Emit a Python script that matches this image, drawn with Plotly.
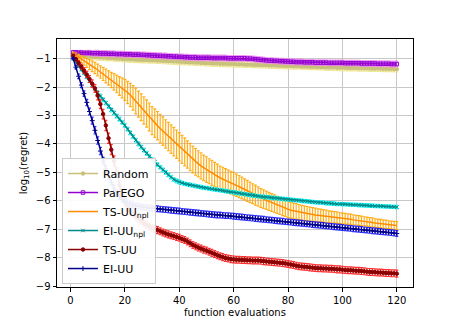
import plotly.graph_objects as go

evals = list(range(1, 121))

random_mean = [
    -0.84, -0.86, -0.88, -0.89, -0.90, -0.91, -0.92, -0.93, -0.94, -0.95,
    -0.96, -0.96, -0.97, -0.98, -0.98, -0.99, -1.00, -1.00, -1.01, -1.02,
    -1.02, -1.03, -1.03, -1.04, -1.04, -1.05, -1.05, -1.05, -1.06, -1.06,
    -1.06, -1.07, -1.07, -1.08, -1.08, -1.09, -1.09, -1.10, -1.10, -1.11,
    -1.11, -1.12, -1.12, -1.13, -1.13, -1.14, -1.14, -1.15, -1.15, -1.16,
    -1.16, -1.17, -1.17, -1.17, -1.18, -1.18, -1.18, -1.19, -1.19, -1.19,
    -1.20, -1.20, -1.20, -1.21, -1.21, -1.21, -1.22, -1.22, -1.22, -1.23,
    -1.23, -1.23, -1.24, -1.24, -1.24, -1.25, -1.25, -1.25, -1.26, -1.26,
    -1.26, -1.27, -1.27, -1.27, -1.28, -1.28, -1.28, -1.29, -1.29, -1.29,
    -1.30, -1.30, -1.30, -1.31, -1.31, -1.31, -1.31, -1.32, -1.32, -1.32,
    -1.32, -1.33, -1.33, -1.33, -1.33, -1.34, -1.34, -1.34, -1.34, -1.35,
    -1.35, -1.35, -1.35, -1.35, -1.36, -1.36, -1.36, -1.36, -1.37, -1.37,
]
random_err = [
    0.06, 0.07, 0.08, 0.08, 0.09, 0.09, 0.09, 0.10, 0.10, 0.10,
    0.10, 0.10, 0.10, 0.10, 0.10, 0.10, 0.10, 0.10, 0.10, 0.10,
    0.10, 0.10, 0.10, 0.10, 0.10, 0.10, 0.10, 0.10, 0.10, 0.10,
    0.10, 0.10, 0.10, 0.10, 0.10, 0.10, 0.10, 0.10, 0.10, 0.10,
    0.10, 0.10, 0.10, 0.10, 0.10, 0.10, 0.10, 0.10, 0.10, 0.10,
    0.10, 0.10, 0.10, 0.10, 0.10, 0.10, 0.10, 0.10, 0.10, 0.10,
    0.10, 0.10, 0.10, 0.10, 0.10, 0.10, 0.10, 0.10, 0.10, 0.10,
    0.10, 0.10, 0.10, 0.10, 0.10, 0.10, 0.10, 0.10, 0.10, 0.10,
    0.10, 0.10, 0.10, 0.10, 0.10, 0.10, 0.10, 0.10, 0.10, 0.10,
    0.10, 0.10, 0.10, 0.10, 0.10, 0.10, 0.10, 0.10, 0.10, 0.10,
    0.10, 0.10, 0.10, 0.10, 0.10, 0.10, 0.10, 0.10, 0.10, 0.10,
    0.10, 0.10, 0.10, 0.10, 0.10, 0.10, 0.10, 0.10, 0.10, 0.10,
]

parego_mean = [
    -0.78, -0.78, -0.79, -0.79, -0.80, -0.80, -0.80, -0.81, -0.81, -0.81,
    -0.82, -0.82, -0.82, -0.83, -0.83, -0.83, -0.84, -0.84, -0.84, -0.85,
    -0.85, -0.85, -0.86, -0.86, -0.86, -0.87, -0.87, -0.88, -0.88, -0.89,
    -0.89, -0.90, -0.90, -0.91, -0.91, -0.92, -0.92, -0.93, -0.93, -0.94,
    -0.94, -0.95, -0.95, -0.96, -0.96, -0.96, -0.97, -0.97, -0.97, -0.97,
    -0.97, -0.98, -0.98, -0.98, -0.98, -0.98, -0.98, -0.99, -0.99, -0.99,
    -0.99, -0.99, -0.99, -0.99, -1.00, -1.00, -1.01, -1.02, -1.03, -1.04,
    -1.05, -1.06, -1.07, -1.07, -1.08, -1.08, -1.09, -1.09, -1.10, -1.10,
    -1.11, -1.11, -1.12, -1.12, -1.12, -1.13, -1.13, -1.13, -1.13, -1.14,
    -1.14, -1.14, -1.14, -1.14, -1.15, -1.15, -1.15, -1.15, -1.15, -1.15,
    -1.16, -1.16, -1.16, -1.16, -1.16, -1.16, -1.17, -1.17, -1.17, -1.17,
    -1.17, -1.17, -1.18, -1.18, -1.18, -1.18, -1.18, -1.19, -1.19, -1.19,
]
parego_err = [
    0.05, 0.06, 0.07, 0.08, 0.08, 0.09, 0.09, 0.09, 0.10, 0.10,
    0.10, 0.10, 0.10, 0.10, 0.10, 0.10, 0.10, 0.10, 0.10, 0.10,
    0.10, 0.10, 0.10, 0.10, 0.10, 0.10, 0.10, 0.10, 0.10, 0.10,
    0.10, 0.10, 0.10, 0.10, 0.10, 0.10, 0.10, 0.10, 0.10, 0.10,
    0.10, 0.10, 0.10, 0.10, 0.10, 0.10, 0.10, 0.10, 0.10, 0.10,
    0.10, 0.10, 0.10, 0.10, 0.10, 0.10, 0.10, 0.10, 0.10, 0.10,
    0.10, 0.10, 0.10, 0.10, 0.10, 0.10, 0.10, 0.10, 0.10, 0.10,
    0.10, 0.10, 0.10, 0.10, 0.10, 0.10, 0.10, 0.10, 0.10, 0.10,
    0.10, 0.10, 0.10, 0.10, 0.10, 0.10, 0.10, 0.10, 0.10, 0.10,
    0.10, 0.10, 0.10, 0.10, 0.10, 0.10, 0.10, 0.10, 0.10, 0.10,
    0.10, 0.10, 0.10, 0.10, 0.10, 0.10, 0.10, 0.10, 0.10, 0.10,
    0.10, 0.10, 0.10, 0.10, 0.10, 0.10, 0.10, 0.10, 0.10, 0.10,
]

ts_npl_mean = [
    -0.82, -0.88, -0.95, -1.02, -1.09, -1.15, -1.21, -1.27, -1.33, -1.40,
    -1.47, -1.54, -1.61, -1.68, -1.75, -1.82, -1.89, -1.96, -2.03, -2.10,
    -2.19, -2.28, -2.38, -2.49, -2.60, -2.71, -2.82, -2.93, -3.05, -3.18,
    -3.27, -3.36, -3.46, -3.55, -3.65, -3.74, -3.83, -3.92, -4.01, -4.10,
    -4.19, -4.28, -4.37, -4.46, -4.55, -4.63, -4.70, -4.77, -4.84, -4.90,
    -4.96, -5.02, -5.08, -5.14, -5.20, -5.24, -5.28, -5.32, -5.36, -5.40,
    -5.45, -5.50, -5.55, -5.60, -5.65, -5.70, -5.75, -5.80, -5.85, -5.90,
    -5.94, -5.98, -6.02, -6.06, -6.10, -6.14, -6.18, -6.22, -6.26, -6.30,
    -6.33, -6.35, -6.37, -6.40, -6.42, -6.44, -6.45, -6.47, -6.48, -6.50,
    -6.51, -6.52, -6.53, -6.55, -6.56, -6.57, -6.58, -6.59, -6.61, -6.62,
    -6.63, -6.64, -6.65, -6.67, -6.68, -6.69, -6.71, -6.72, -6.73, -6.75,
    -6.76, -6.78, -6.79, -6.80, -6.82, -6.83, -6.84, -6.85, -6.86, -6.87,
]
ts_npl_err = [
    0.05, 0.08, 0.10, 0.12, 0.14, 0.16, 0.18, 0.19, 0.20, 0.21,
    0.22, 0.23, 0.24, 0.25, 0.27, 0.29, 0.31, 0.33, 0.35, 0.37,
    0.39, 0.41, 0.43, 0.45, 0.46, 0.47, 0.48, 0.48, 0.49, 0.49,
    0.50, 0.50, 0.50, 0.50, 0.50, 0.50, 0.50, 0.50, 0.50, 0.50,
    0.49, 0.49, 0.48, 0.48, 0.47, 0.47, 0.46, 0.46, 0.45, 0.45,
    0.44, 0.44, 0.43, 0.43, 0.42, 0.42, 0.41, 0.41, 0.40, 0.40,
    0.39, 0.39, 0.38, 0.37, 0.37, 0.36, 0.35, 0.35, 0.34, 0.33,
    0.33, 0.32, 0.32, 0.31, 0.31, 0.30, 0.30, 0.30, 0.29, 0.29,
    0.28, 0.28, 0.27, 0.27, 0.26, 0.26, 0.25, 0.25, 0.24, 0.24,
    0.23, 0.23, 0.22, 0.22, 0.21, 0.21, 0.20, 0.20, 0.19, 0.19,
    0.19, 0.18, 0.18, 0.18, 0.17, 0.17, 0.17, 0.16, 0.16, 0.16,
    0.16, 0.15, 0.15, 0.15, 0.15, 0.15, 0.14, 0.14, 0.14, 0.14,
]

ei_npl_mean = [
    -1.00, -1.13, -1.25, -1.38, -1.50, -1.64, -1.78, -1.92, -2.06, -2.20,
    -2.32, -2.44, -2.56, -2.68, -2.80, -2.91, -3.02, -3.13, -3.24, -3.35,
    -3.48, -3.61, -3.74, -3.87, -4.00, -4.11, -4.22, -4.33, -4.44, -4.55,
    -4.64, -4.73, -4.82, -4.91, -5.00, -5.09, -5.17, -5.25, -5.30, -5.34,
    -5.37, -5.40, -5.42, -5.44, -5.46, -5.48, -5.50, -5.52, -5.54, -5.55,
    -5.57, -5.58, -5.60, -5.61, -5.63, -5.64, -5.66, -5.67, -5.69, -5.70,
    -5.72, -5.73, -5.75, -5.76, -5.78, -5.79, -5.81, -5.82, -5.84, -5.85,
    -5.86, -5.87, -5.88, -5.89, -5.90, -5.91, -5.92, -5.93, -5.94, -5.95,
    -5.96, -5.97, -5.98, -5.99, -6.00, -6.01, -6.02, -6.03, -6.04, -6.05,
    -6.06, -6.06, -6.07, -6.08, -6.09, -6.09, -6.10, -6.11, -6.11, -6.12,
    -6.12, -6.13, -6.13, -6.14, -6.14, -6.15, -6.15, -6.16, -6.16, -6.17,
    -6.17, -6.18, -6.18, -6.19, -6.19, -6.20, -6.20, -6.21, -6.21, -6.22,
]
ei_npl_err = [
    0.03, 0.04, 0.05, 0.05, 0.06, 0.06, 0.06, 0.06, 0.07, 0.07,
    0.07, 0.07, 0.07, 0.07, 0.07, 0.07, 0.07, 0.07, 0.07, 0.07,
    0.07, 0.07, 0.07, 0.07, 0.07, 0.07, 0.07, 0.07, 0.07, 0.07,
    0.07, 0.07, 0.07, 0.07, 0.07, 0.07, 0.07, 0.07, 0.07, 0.07,
    0.06, 0.06, 0.06, 0.06, 0.06, 0.06, 0.06, 0.06, 0.06, 0.06,
    0.06, 0.06, 0.06, 0.06, 0.06, 0.06, 0.06, 0.06, 0.06, 0.06,
    0.06, 0.06, 0.06, 0.06, 0.06, 0.06, 0.06, 0.06, 0.06, 0.06,
    0.06, 0.06, 0.06, 0.06, 0.06, 0.06, 0.06, 0.06, 0.06, 0.06,
    0.06, 0.06, 0.06, 0.06, 0.06, 0.06, 0.06, 0.06, 0.06, 0.06,
    0.06, 0.06, 0.06, 0.06, 0.06, 0.06, 0.06, 0.06, 0.06, 0.06,
    0.06, 0.06, 0.06, 0.06, 0.06, 0.06, 0.06, 0.06, 0.06, 0.06,
    0.06, 0.06, 0.06, 0.06, 0.06, 0.06, 0.06, 0.06, 0.06, 0.06,
]

ts_mean = [
    -0.90, -1.02, -1.15, -1.28, -1.42, -1.56, -1.72, -1.88, -2.05, -2.30,
    -2.60, -2.95, -3.35, -3.80, -4.20, -4.60, -5.00, -5.45, -5.80, -6.05,
    -6.20, -6.35, -6.45, -6.55, -6.62, -6.70, -6.80, -6.85, -6.90, -6.95,
    -6.99, -7.03, -7.07, -7.11, -7.15, -7.18, -7.21, -7.24, -7.27, -7.30,
    -7.34, -7.38, -7.43, -7.49, -7.55, -7.60, -7.64, -7.68, -7.72, -7.75,
    -7.79, -7.83, -7.87, -7.91, -7.95, -7.98, -8.01, -8.03, -8.05, -8.06,
    -8.07, -8.07, -8.08, -8.08, -8.09, -8.09, -8.10, -8.10, -8.10, -8.11,
    -8.12, -8.13, -8.14, -8.15, -8.16, -8.17, -8.18, -8.19, -8.20, -8.22,
    -8.24, -8.26, -8.28, -8.30, -8.31, -8.32, -8.33, -8.34, -8.35, -8.36,
    -8.37, -8.37, -8.38, -8.38, -8.39, -8.39, -8.40, -8.41, -8.41, -8.42,
    -8.43, -8.44, -8.44, -8.45, -8.46, -8.46, -8.47, -8.48, -8.49, -8.50,
    -8.50, -8.51, -8.52, -8.52, -8.53, -8.54, -8.54, -8.55, -8.55, -8.56,
]
ts_err = [
    0.04, 0.06, 0.08, 0.09, 0.10, 0.11, 0.12, 0.13, 0.14, 0.15,
    0.16, 0.17, 0.18, 0.18, 0.18, 0.18, 0.17, 0.16, 0.15, 0.14,
    0.13, 0.13, 0.12, 0.12, 0.12, 0.12, 0.12, 0.12, 0.12, 0.12,
    0.12, 0.12, 0.12, 0.12, 0.12, 0.12, 0.12, 0.12, 0.12, 0.12,
    0.12, 0.12, 0.12, 0.12, 0.12, 0.12, 0.12, 0.12, 0.12, 0.12,
    0.12, 0.12, 0.12, 0.12, 0.12, 0.12, 0.12, 0.12, 0.12, 0.12,
    0.12, 0.12, 0.12, 0.12, 0.12, 0.12, 0.12, 0.12, 0.12, 0.12,
    0.12, 0.12, 0.12, 0.12, 0.12, 0.12, 0.12, 0.12, 0.12, 0.12,
    0.12, 0.12, 0.12, 0.12, 0.12, 0.12, 0.12, 0.12, 0.12, 0.12,
    0.12, 0.12, 0.12, 0.12, 0.12, 0.12, 0.12, 0.12, 0.12, 0.12,
    0.12, 0.12, 0.12, 0.12, 0.12, 0.12, 0.12, 0.12, 0.12, 0.12,
    0.12, 0.12, 0.12, 0.12, 0.12, 0.12, 0.12, 0.12, 0.12, 0.12,
]

ei_mean = [
    -1.00, -1.30, -1.62, -1.93, -2.23, -2.54, -2.86, -3.18, -3.52, -3.88,
    -4.25, -4.60, -4.88, -5.12, -5.35, -5.55, -5.72, -5.85, -5.95, -6.02,
    -6.07, -6.11, -6.14, -6.17, -6.19, -6.21, -6.23, -6.24, -6.25, -6.26,
    -6.27, -6.28, -6.29, -6.30, -6.31, -6.32, -6.33, -6.34, -6.35, -6.36,
    -6.37, -6.38, -6.39, -6.40, -6.41, -6.42, -6.43, -6.44, -6.45, -6.46,
    -6.47, -6.48, -6.49, -6.50, -6.50, -6.51, -6.52, -6.52, -6.53, -6.54,
    -6.55, -6.56, -6.57, -6.58, -6.59, -6.60, -6.61, -6.62, -6.63, -6.64,
    -6.65, -6.66, -6.67, -6.68, -6.69, -6.70, -6.71, -6.72, -6.73, -6.74,
    -6.75, -6.76, -6.77, -6.78, -6.79, -6.80, -6.81, -6.82, -6.83, -6.84,
    -6.85, -6.86, -6.87, -6.88, -6.89, -6.90, -6.91, -6.92, -6.93, -6.94,
    -6.95, -6.96, -6.97, -6.98, -6.99, -7.00, -7.01, -7.02, -7.03, -7.04,
    -7.05, -7.06, -7.07, -7.08, -7.09, -7.10, -7.11, -7.12, -7.13, -7.15,
]
ei_err = [
    0.04, 0.06, 0.08, 0.09, 0.10, 0.11, 0.12, 0.12, 0.13, 0.13,
    0.13, 0.13, 0.12, 0.12, 0.11, 0.11, 0.10, 0.10, 0.10, 0.10,
    0.10, 0.10, 0.10, 0.10, 0.10, 0.10, 0.10, 0.10, 0.10, 0.10,
    0.10, 0.10, 0.10, 0.10, 0.10, 0.10, 0.10, 0.10, 0.10, 0.10,
    0.10, 0.10, 0.10, 0.10, 0.10, 0.10, 0.10, 0.10, 0.10, 0.10,
    0.10, 0.10, 0.10, 0.10, 0.10, 0.10, 0.10, 0.10, 0.10, 0.10,
    0.10, 0.10, 0.10, 0.10, 0.10, 0.10, 0.10, 0.10, 0.10, 0.10,
    0.10, 0.10, 0.10, 0.10, 0.10, 0.10, 0.10, 0.10, 0.10, 0.10,
    0.10, 0.10, 0.10, 0.10, 0.10, 0.10, 0.10, 0.10, 0.10, 0.10,
    0.10, 0.10, 0.10, 0.10, 0.10, 0.10, 0.10, 0.10, 0.10, 0.10,
    0.10, 0.10, 0.10, 0.10, 0.10, 0.10, 0.10, 0.10, 0.10, 0.10,
    0.10, 0.10, 0.10, 0.10, 0.10, 0.10, 0.10, 0.10, 0.10, 0.10,
]

y_ticks = [-1, -2, -3, -4, -5, -6, -7, -8, -9]
y_tick_text = ["\u22121", "\u22122", "\u22123", "\u22124", "\u22125",
               "\u22126", "\u22127", "\u22128", "\u22129"]

# name, mean, err, line colour, errorbar colour, marker symbol
series = [
    ("Random", random_mean, random_err, "#c9c27a", "rgba(240,230,140,0.9)", "circle"),
    ("ParEGO", parego_mean, parego_err, "#9400d3", "rgba(238,130,238,0.8)", "square-open"),
    ("TS-UU<sub>npl</sub>", ts_npl_mean, ts_npl_err, "#ff8c00", "rgba(255,165,0,0.9)", None),
    ("EI-UU<sub>npl</sub>", ei_npl_mean, ei_npl_err, "#008b8b", "rgba(0,255,255,0.85)", "x-thin"),
    ("TS-UU", ts_mean, ts_err, "#8b0000", "rgba(255,0,0,0.8)", "circle"),
    ("EI-UU", ei_mean, ei_err, "#00008b", "rgba(0,0,255,0.8)", "cross-thin"),
]

fig = go.Figure()
for name, mean, err, col, ecol, sym in series:
    marker = dict(color=col, size=3.5, symbol=sym or "circle",
                  line=dict(color=col, width=1))
    fig.add_trace(go.Scatter(
        x=evals, y=mean, name=name,
        mode="lines+markers" if sym else "lines",
        line=dict(color=col, width=1.5),
        marker=marker,
        error_y=dict(type="data", array=err, color=ecol, thickness=1.2, width=1.5),
    ))

axis_style = dict(
    showline=True, linecolor="black", linewidth=1, mirror=True,
    ticks="outside", ticklen=3.5, tickcolor="black",
    showgrid=True, gridcolor="#c8c8c8", gridwidth=1.2, zeroline=False,
    tickfont=dict(size=10, color="black"), automargin=False,
)

fig.update_layout(
    width=458, height=327,
    margin=dict(l=57, r=45, t=39, b=40),
    plot_bgcolor="white", paper_bgcolor="white",
    font=dict(family="DejaVu Sans", size=10, color="black"),
    showlegend=True,
    legend=dict(
        x=0.014, y=0.012, xanchor="left", yanchor="bottom",
        bgcolor="rgba(255,255,255,0.92)", bordercolor="#cccccc", borderwidth=1,
        font=dict(size=11), tracegroupgap=0,
    ),
    xaxis=dict(axis_style, range=[-4.95, 125.95], tickvals=[0, 20, 40, 60, 80, 100, 120],
               title=dict(text="function evaluations", standoff=4, font=dict(size=10))),
    yaxis=dict(axis_style, range=[-9.03, -0.31], tickvals=y_ticks, ticktext=y_tick_text,
               title=dict(text="log<sub>10</sub>(regret)", standoff=6, font=dict(size=10))),
)

fig.write_html("out.html", config={"displayModeBar": False},
               post_script="document.body.style.margin = '0';")
